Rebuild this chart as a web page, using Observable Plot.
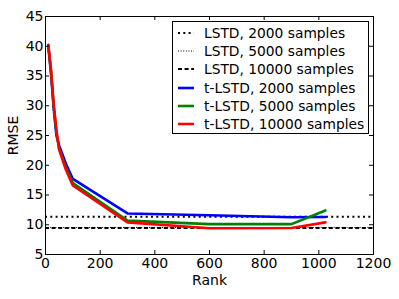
<!DOCTYPE html>
<html><head><meta charset="utf-8">
<script src="https://cdn.jsdelivr.net/npm/d3@7"></script>
<script src="https://cdn.jsdelivr.net/npm/@observablehq/plot@0.6"></script>
<style>
html,body{margin:0;padding:0;background:#fff;}
#wrap{position:relative;width:399px;height:299px;font-family:"DejaVu Sans",sans-serif;}
#legend{position:absolute;left:172px;top:21px;width:197px;height:113px;box-sizing:border-box;border:1px solid #000;background:#fff;padding-top:1.5px;}
.row{height:18.3px;display:flex;align-items:center;font-size:13.8px;color:#000;white-space:nowrap;}
.row svg{margin-left:5px;margin-right:10px;flex:none;}
</style></head><body><div id="wrap"></div>
<script>
// Data
const ranks = [10, 20, 30, 40, 50, 75, 100, 300, 600, 900, 1024];
const tlstd2000 = [40.2, 35.5, 29.5, 25.0, 23.3, 20.2, 17.7, 11.9, 11.6, 11.25, 11.3];
const tlstd5000 = [40.2, 36.0, 30.0, 25.5, 22.8, 19.6, 17.0, 10.7, 10.1, 10.1, 12.4];
const tlstd10000 = [40.2, 36.0, 30.2, 25.8, 22.6, 19.2, 16.6, 10.4, 9.4, 9.45, 10.4];
const lstdNames = ["LSTD, 2000 samples", "LSTD, 5000 samples", "LSTD, 10000 samples"];
const lstdValues = [11.35, 9.55, 9.45];
const tNames = ["t-LSTD, 2000 samples", "t-LSTD, 5000 samples", "t-LSTD, 10000 samples"];
const xTicks = [0, 200, 400, 600, 800, 1000, 1200];
const yTicks = [5, 10, 15, 20, 25, 30, 35, 40, 45];

const lstdStyles = [
  {stroke: "#000", strokeWidth: 2, strokeDasharray: "2,3.3"},
  {stroke: "#000", strokeWidth: 1, strokeDasharray: "1,1.6"},
  {stroke: "#000", strokeWidth: 2, strokeDasharray: "4,2.6"}
];
const tColors = ["#0000ff", "#008000", "#ff0000"];
const tSeries = [tlstd2000, tlstd5000, tlstd10000].map(vals => ranks.map((r, i) => ({rank: r, rmse: vals[i]})));

const fmt = d3.format("d");
const plot = Plot.plot({
  width: 399, height: 299,
  marginLeft: 45, marginRight: 26, marginTop: 16, marginBottom: 45,
  style: {fontFamily: "DejaVu Sans", fontSize: "14px", background: "white", color: "black"},
  x: {domain: [0, 1200]},
  y: {domain: [5, 45]},
  marks: [
    ...lstdValues.map((v, i) => Plot.ruleY([v], lstdStyles[i])),
    ...tSeries.map((s, i) => Plot.line(s, {x: "rank", y: "rmse", stroke: tColors[i], strokeWidth: 2.6})),
    Plot.axisX({ticks: xTicks, tickSize: 0, tickPadding: 4, tickFormat: fmt, label: "Rank", labelAnchor: "center", labelArrow: "none", labelOffset: 30}),
    Plot.axisY({ticks: yTicks, tickSize: 0, tickPadding: 2, tickFormat: fmt, label: "RMSE", labelAnchor: "center", labelArrow: "none", labelOffset: 37}),
    // inner ticks on all four sides
    Plot.ruleX(xTicks, {x: d => d, y1: 5, y2: 5, insetBottom: 4, stroke: "#000"}),
    Plot.ruleX(xTicks, {x: d => d, y1: 45, y2: 45, insetTop: 4, stroke: "#000"}),
    Plot.ruleY(yTicks, {y: d => d, x1: 0, x2: 0, insetRight: -4, stroke: "#000"}),
    Plot.ruleY(yTicks, {y: d => d, x1: 1200, x2: 1200, insetLeft: -4, stroke: "#000"}),
    Plot.frame({stroke: "#000", strokeWidth: 1})
  ]
});
const wrap = document.getElementById("wrap");
wrap.appendChild(plot);

// Legend overlay
const legend = document.createElement("div");
legend.id = "legend";
const entries = [
  ...lstdNames.map((n, i) => ({name: n, style: lstdStyles[i]})),
  ...tNames.map((n, i) => ({name: n, style: {stroke: tColors[i], strokeWidth: 2.6}}))
];
for (const e of entries) {
  const row = document.createElement("div");
  row.className = "row";
  const s = e.style;
  row.innerHTML = `<svg width="16" height="6"><line x1="0" x2="16" y1="3" y2="3" stroke="${s.stroke}" stroke-width="${s.strokeWidth}" ${s.strokeDasharray ? `stroke-dasharray="${s.strokeDasharray}"` : ""}/></svg><span>${e.name}</span>`;
  legend.appendChild(row);
}
wrap.appendChild(legend);
</script></body></html>
